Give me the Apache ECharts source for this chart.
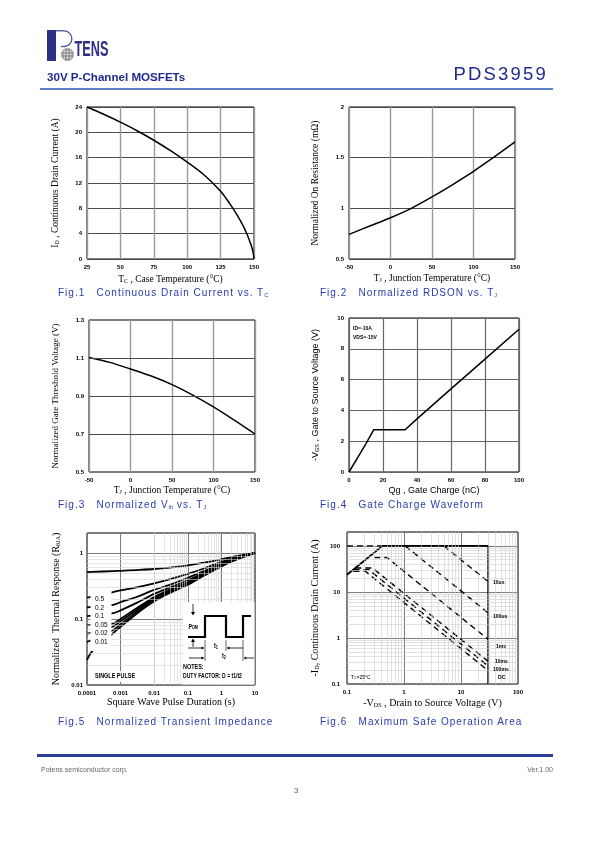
<!DOCTYPE html>
<html>
<head>
<meta charset="utf-8">
<title>PDS3959</title>
<script src="https://cdn.jsdelivr.net/npm/echarts@6.0.0/dist/echarts.min.js"></script>
<style>
html,body{margin:0;padding:0;background:#fff;}
#page{position:relative;width:595px;height:842px;overflow:hidden;background:#fff;}
#chart{position:absolute;left:0;top:0;width:595px;height:842px;}
.tx{position:absolute;white-space:nowrap;line-height:1;font-family:'Liberation Sans',Arial,sans-serif;}
.cap{font-size:10px;color:#2a3bb0;letter-spacing:1px;}
.cap sub{font-size:5.5px;vertical-align:-1px;letter-spacing:0;}
</style>
</head>
<body>
<div id="page">
<div id="chart"></div>
<div class="tx" style="left:47px;top:70.5px;font-size:11.6px;font-weight:bold;color:#1e2a8e;">30V P-Channel MOSFETs</div>
<div class="tx" style="right:47px;top:65px;font-size:18.5px;color:#1e2a8e;letter-spacing:2.2px;">PDS3959</div>
<div style="position:absolute;left:40px;top:88px;width:513px;height:2px;background:#5f7fc8;"></div>
<div class="tx cap" style="left:58px;top:288px;">Fig.1&nbsp;&nbsp;&nbsp;Continuous Drain Current vs. T<sub>C</sub></div>
<div class="tx cap" style="left:320px;top:288px;">Fig.2&nbsp;&nbsp;&nbsp;Normalized RDSON vs. T<sub>J</sub></div>
<div class="tx cap" style="left:58px;top:500px;">Fig.3&nbsp;&nbsp;&nbsp;Normalized V<sub>th</sub> vs. T<sub>J</sub></div>
<div class="tx cap" style="left:320px;top:500px;">Fig.4&nbsp;&nbsp;&nbsp;Gate Charge Waveform</div>
<div class="tx cap" style="left:58px;top:717px;">Fig.5&nbsp;&nbsp;&nbsp;Normalized Transient Impedance</div>
<div class="tx cap" style="left:320px;top:717px;">Fig.6&nbsp;&nbsp;&nbsp;Maximum Safe Operation Area</div>
<div style="position:absolute;left:37px;top:754px;width:516px;height:3px;background:#2b3c9c;"></div>
<div class="tx" style="left:41px;top:765.5px;font-size:7px;color:#666;">Potens semiconductor corp.</div>
<div class="tx" style="right:42px;top:765.5px;font-size:7px;color:#666;">Ver.1.00</div>
<div class="tx" style="left:294px;top:787px;font-size:8px;color:#666;">3</div>
</div>
<script>
// ---------------- DATA ----------------
// Fig.1 Continuous drain current vs case temperature
const fig1Temp = [25, 37.5, 50, 62.5, 75, 87.5, 100, 112.5, 125, 132, 137.5, 142, 145, 147.5, 149.2, 150];
const fig1Current = [24, 22.85, 21.6, 20.25, 18.75, 17.1, 15.3, 13.3, 10.7, 8.7, 6.9, 5.2, 3.8, 2.4, 1.2, 0];
const fig1XTicks = [25, 50, 75, 100, 125, 150];
const fig1YTicks = [0, 4, 8, 12, 16, 20, 24];

// Fig.2 Normalized RDSON vs junction temperature
const fig2Temp = [-50, -25, 0, 25, 50, 75, 100, 125, 150];
const fig2Rds = [0.743, 0.825, 0.907, 1.0, 1.113, 1.235, 1.365, 1.507, 1.655];
const fig2XTicks = [-50, 0, 50, 100, 150];
const fig2YTicks = [0.5, 1, 1.5, 2];

// Fig.3 Normalized Vth vs junction temperature
const fig3Temp = [-50, -25, 0, 25, 50, 75, 100, 125, 150];
const fig3Vth = [1.103, 1.077, 1.042, 1.005, 0.96, 0.905, 0.843, 0.773, 0.70];
const fig3XTicks = [-50, 0, 50, 100, 150];
const fig3YTicks = [0.5, 0.7, 0.9, 1.1, 1.3];

// Fig.4 Gate charge waveform
const fig4Qg = [0, 5, 10, 14.5, 33, 40, 60, 80, 100];
const fig4Vgs = [0, 0.92, 1.85, 2.74, 2.74, 3.45, 5.4, 7.33, 9.27];
const fig4XTicks = [0, 20, 40, 60, 80, 100];
const fig4YTicks = [0, 2, 4, 6, 8, 10];
const fig4Notes = ['ID=-10A', 'VDS=-15V'];

// Fig.5 Normalized transient impedance
const fig5Time = [0.0001, 0.00014, 0.0006, 0.001, 0.003, 0.01, 0.03, 0.1, 0.3, 1, 3, 10];
const fig5CurveA = [0.51, 0.515, 0.53, 0.535, 0.55, 0.57, 0.60, 0.645, 0.71, 0.80, 0.90, 1.0];
const fig5CurveB = [0.21, 0.215, 0.255, 0.27, 0.30, 0.345, 0.40, 0.48, 0.58, 0.73, 0.86, 1.0];
const fig5CurveC = [0.15, 0.152, 0.163, 0.18, 0.215, 0.275, 0.33, 0.42, 0.53, 0.69, 0.84, 1.0];
const fig5CurveD = [0.11, 0.112, 0.122, 0.135, 0.175, 0.24, 0.30, 0.385, 0.50, 0.67, 0.83, 1.0];
const fig5CurveE = [0.08, 0.081, 0.086, 0.10, 0.145, 0.215, 0.28, 0.36, 0.48, 0.655, 0.82, 1.0];
const fig5CurveF = [0.06, 0.062, 0.077, 0.092, 0.137, 0.205, 0.27, 0.35, 0.47, 0.645, 0.815, 1.0];
const fig5CurveG = [0.045, 0.048, 0.068, 0.083, 0.128, 0.195, 0.26, 0.34, 0.46, 0.635, 0.81, 1.0];
const fig5Single = [0.024, 0.032, 0.061, 0.076, 0.12, 0.185, 0.25, 0.33, 0.45, 0.625, 0.80, 1.0];
const fig5XTicks = [0.0001, 0.001, 0.01, 0.1, 1, 10];
const fig5YTicks = [0.01, 0.1, 1];
const fig5DutyLabels = ['0.5', '0.2', '0.1', '0.05', '0.02', '0.01'];

// Fig.6 Maximum safe operation area
const fig6BoundV = [0.1, 0.42, 30, 30];
const fig6BoundI = [23.5, 100, 100, 0.1];
const fig6TopV = [0.1, 0.42];
const fig6TopI = [100, 100];
const fig6Us10V = [5, 30];
const fig6Us10I = [100, 16.7];
const fig6Us100V = [1.05, 30];
const fig6Us100I = [100, 3.5];
const fig6Ms1V = [0.3, 0.5, 30];
const fig6Ms1I = [56, 56, 0.93];
const fig6Ms10V = [0.14, 0.28, 30];
const fig6Ms10I = [33, 33, 0.31];
const fig6Ms100V = [0.13, 0.24, 30];
const fig6Ms100I = [30.5, 30.5, 0.245];
const fig6DcV = [0.13, 0.21, 30];
const fig6DcI = [28, 28, 0.195];
const fig6XTicks = [0.1, 1, 10, 100];
const fig6YTicks = [0.1, 1, 10, 100];
const fig6Labels = ['10us', '100us', '1ms', '10ms', '100ms', 'DC'];

// ---------------- LAYOUT / STYLE ----------------
const SANS = "'Liberation Sans', Arial, sans-serif";
const SERIF = "'Liberation Serif', 'Times New Roman', serif";
const boxes = [
  {l: 87, t: 107, w: 167, h: 152},
  {l: 349, t: 107, w: 166, h: 152},
  {l: 89, t: 320, w: 166, h: 152},
  {l: 349, t: 318, w: 170, h: 154},
  {l: 87, t: 533, w: 168, h: 152},
  {l: 347, t: 532, w: 171, h: 152}
];
const zip = (a, b) => a.map((v, i) => [v, b[i]]);

function nameStyle(font, size) {
  return {
    color: '#000', fontFamily: font, fontSize: size,
    rich: {
      n: {fontFamily: font, fontSize: size, color: '#000'},
      s: {fontFamily: font, fontSize: size * 0.62, color: '#000', verticalAlign: 'bottom'}
    }
  };
}
const tickLabel = {fontSize: 6, fontWeight: 'bold', fontFamily: SANS, color: '#000'};

function linAxis(gi, ticks, extra) {
  return Object.assign({
    type: 'value', gridIndex: gi,
    min: ticks[0], max: ticks[ticks.length - 1],
    interval: +(ticks[1] - ticks[0]).toFixed(6),
    axisLine: {show: false}, axisTick: {show: false},
    axisLabel: Object.assign({margin: 5}, tickLabel),
    nameLocation: 'middle', nameMoveOverlap: false
  }, extra);
}
function logFormatter(ticks) {
  return function (v) {
    const t = ticks.find(x => Math.abs(Math.log10(x) - Math.log10(v)) < 1e-6);
    return t === undefined ? '' : String(t);
  };
}
function logAxis(gi, ticks, min, max, extra) {
  return Object.assign({
    type: 'log', logBase: 10, gridIndex: gi, min: min, max: max,
    axisLine: {show: false}, axisTick: {show: false},
    axisLabel: Object.assign({margin: 5, formatter: logFormatter(ticks)}, tickLabel),
    splitLine: {show: true, lineStyle: {color: '#7a7a7a', width: 1}},
    minorTick: {show: false}, minorSplitLine: {show: false},
    nameLocation: 'middle', nameMoveOverlap: false
  }, extra);
}
function minorValues(ticks) {
  const out = [];
  for (let i = 0; i < ticks.length - 1; i++) {
    for (let k = 2; k <= 9; k++) out.push(+(ticks[i] * k).toPrecision(3));
  }
  return out;
}
function gridLineSeries(gi, xs, ys, color, width) {
  return {
    type: 'line', xAxisIndex: gi, yAxisIndex: gi, data: [], z: 1, silent: true,
    markLine: {
      silent: true, symbol: ['none', 'none'], animation: false,
      label: {show: false},
      lineStyle: {color: color, width: width, type: 'solid'},
      emphasis: {disabled: true},
      data: xs.map(v => ({xAxis: v})).concat(ys.map(v => ({yAxis: v})))
    }
  };
}
function curve(gi, data, extra) {
  return Object.assign({
    type: 'line', xAxisIndex: gi, yAxisIndex: gi, data: data,
    showSymbol: false, symbol: 'none', z: 3, silent: true,
    lineStyle: {color: '#000', width: 1.5}
  }, extra);
}
function dashed(gi, data) {
  return curve(gi, data, {lineStyle: {color: '#000', width: 1.4, type: [6, 4]}});
}

const xSplit = {show: true, lineStyle: {color: '#9a9a9a', width: 1.4}};
const ySplit = {show: true, lineStyle: {color: '#4a4a4a', width: 1}};

const grids = boxes.map(b => ({
  left: b.l, top: b.t, width: b.w, height: b.h,
  show: true, borderColor: '#000', borderWidth: 1, backgroundColor: '#fff',
  containLabel: false, outerBoundsMode: 'none'
}));

const xAxes = [
  linAxis(0, fig1XTicks, {name: '{n|T}{s|C}{n| , Case Temperature (°C)}', nameGap: 15, nameTextStyle: nameStyle(SERIF, 9.5), splitLine: xSplit}),
  linAxis(1, fig2XTicks, {name: '{n|T}{s|J}{n| , Junction Temperature (°C)}', nameGap: 14, nameTextStyle: nameStyle(SERIF, 9.5), splitLine: xSplit}),
  linAxis(2, fig3XTicks, {name: '{n|T}{s|J}{n| , Junction Temperature (°C)}', nameGap: 13, nameTextStyle: nameStyle(SERIF, 9.5), splitLine: xSplit}),
  linAxis(3, fig4XTicks, {name: '{n|Qg , Gate Charge (nC)}', nameGap: 14, nameTextStyle: nameStyle(SANS, 9), splitLine: {show: true, lineStyle: {color: '#666', width: 1.2}}}),
  logAxis(4, fig5XTicks, 0.0001, 10, {name: '{n|Square Wave Pulse Duration (s)}', nameGap: 12, nameTextStyle: nameStyle(SERIF, 10)}),
  logAxis(5, fig6XTicks, 0.1, 100, {name: '{n|-V}{s|DS}{n| , Drain to Source Voltage (V)}', nameGap: 14, nameTextStyle: nameStyle(SERIF, 10)})
];
const yAxes = [
  linAxis(0, fig1YTicks, {name: '{n|I}{s|D}{n| , Continuous Drain Current (A)}', nameRotate: 90, nameGap: 27, nameTextStyle: nameStyle(SERIF, 9.5), splitLine: ySplit}),
  linAxis(1, fig2YTicks, {name: '{n|Normalized On Resistance (mΩ)}', nameRotate: 90, nameGap: 29, nameTextStyle: nameStyle(SERIF, 9.5), splitLine: ySplit}),
  linAxis(2, [0.5, 0.6, 0.7, 0.8, 0.9, 1.0, 1.1, 1.2, 1.3], {
    name: '{n|Normalized Gate Threshold Voltage (V)}', nameRotate: 90, nameGap: 29, nameTextStyle: nameStyle(SERIF, 9),
    splitLine: {show: false},
    axisLabel: Object.assign({margin: 5, formatter: v => fig3YTicks.some(t => Math.abs(t - v) < 1e-6) ? String(+v.toFixed(1)) : ''}, tickLabel)
  }),
  linAxis(3, fig4YTicks, {name: '{n|-V}{s|GS}{n| , Gate to Source Voltage (V)}', nameRotate: 90, nameGap: 29, nameTextStyle: nameStyle(SANS, 9), splitLine: {show: true, lineStyle: {color: '#666', width: 1.2}}}),
  logAxis(4, fig5YTicks, 0.01, 2, {name: '{n|Normalized  Thermal Response (R}{s|θJA}{n|)}', nameRotate: 90, nameGap: 26, nameTextStyle: nameStyle(SERIF, 10), axisLabel: Object.assign({margin: 4, formatter: logFormatter(fig5YTicks)}, tickLabel)}),
  logAxis(5, fig6YTicks, 0.1, 200, {name: '{n|-I}{s|D}{n|, Continuous Drain Current (A)}', nameRotate: 90, nameGap: 27, nameTextStyle: nameStyle(SERIF, 10), axisLabel: Object.assign({margin: 7, formatter: logFormatter(fig6YTicks)}, tickLabel)})
];

const series = [
  curve(0, zip(fig1Temp, fig1Current), {smooth: 0.3}),
  curve(1, zip(fig2Temp, fig2Rds), {smooth: 0.3}),
  gridLineSeries(2, [], fig3YTicks.slice(1, -1), '#4a4a4a', 1),
  curve(2, zip(fig3Temp, fig3Vth), {smooth: 0.3}),
  curve(3, zip(fig4Qg, fig4Vgs)),
  gridLineSeries(4, minorValues(fig5XTicks), minorValues(fig5YTicks), '#d4d4d4', 0.6),
  gridLineSeries(5, minorValues(fig6XTicks), minorValues(fig6YTicks), '#cccccc', 0.6)
];
[fig5CurveA, fig5CurveB, fig5CurveC, fig5CurveD, fig5CurveE, fig5CurveF, fig5CurveG, fig5Single].forEach(c => {
  series.push(curve(4, zip(fig5Time, c), {smooth: 0.3, lineStyle: {color: '#000', width: 1.8}}));
});
series.push(curve(5, zip(fig6BoundV, fig6BoundI), {lineStyle: {color: '#000', width: 1.8}}));
[[fig6TopV, fig6TopI], [fig6Us10V, fig6Us10I], [fig6Us100V, fig6Us100I], [fig6Ms1V, fig6Ms1I],
 [fig6Ms10V, fig6Ms10I], [fig6Ms100V, fig6Ms100I], [fig6DcV, fig6DcI]].forEach(p => {
  series.push(dashed(5, zip(p[0], p[1])));
});

// ---------------- GRAPHIC ANNOTATIONS ----------------
const blk = '#000';
function gline(x1, y1, x2, y2, w) { return {type: 'line', z: 101, shape: {x1, y1, x2, y2}, style: {stroke: blk, lineWidth: w || 0.8}}; }
function tri(pts) { return {type: 'polygon', z: 101, shape: {points: pts}, style: {fill: blk}}; }
// condensed bold label (narrow look emulated with scaleX)
function txt(x, y, text, size, extra, sx) {
  return {type: 'text', x: x, y: y, z: 102, scaleX: sx === undefined ? 0.84 : sx,
    style: Object.assign({text: text, fontSize: size, fontFamily: SANS, fontWeight: 'bold', fill: blk, align: 'left', verticalAlign: 'middle'}, extra || {})};
}
function wrect(x, y, w, h) { return {type: 'rect', z: 100, shape: {x, y, width: w, height: h}, style: {fill: '#fff'}}; }
const navy = '#2c2f84';
const subRich = {a: {fontSize: 6.5, fontFamily: SANS, fontWeight: 'bold'}, b: {fontSize: 4.5, fontFamily: SANS, fontWeight: 'bold', verticalAlign: 'bottom'}};
const graphics = [
  // logo
  {type: 'rect', shape: {x: 47, y: 30, width: 9, height: 31}, style: {fill: navy}},
  {type: 'line', shape: {x1: 56, y1: 30.8, x2: 64, y2: 30.8}, style: {stroke: '#4a4f96', lineWidth: 1.3}},
  {type: 'arc', shape: {cx: 64, cy: 38.65, r: 7.85, startAngle: -Math.PI / 2, endAngle: Math.PI / 2, clockwise: true}, style: {stroke: '#4a4f96', lineWidth: 1.3, fill: 'none'}},
  {type: 'line', shape: {x1: 64, y1: 46.5, x2: 61, y2: 46.5}, style: {stroke: '#4a4f96', lineWidth: 1.3}},
  {type: 'circle', shape: {cx: 67.5, cy: 54.5, r: 6.5}, style: {fill: '#8d8d8d'}},
  {type: 'line', shape: {x1: 61.8, y1: 51.3, x2: 73.2, y2: 51.3}, style: {stroke: '#e0e0e0', lineWidth: 0.6}},
  {type: 'line', shape: {x1: 61, y1: 54.5, x2: 74, y2: 54.5}, style: {stroke: '#e0e0e0', lineWidth: 0.6}},
  {type: 'line', shape: {x1: 61.8, y1: 57.7, x2: 73.2, y2: 57.7}, style: {stroke: '#e0e0e0', lineWidth: 0.6}},
  {type: 'line', shape: {x1: 64.3, y1: 48.8, x2: 64.3, y2: 60.2}, style: {stroke: '#e0e0e0', lineWidth: 0.6}},
  {type: 'line', shape: {x1: 67.5, y1: 48, x2: 67.5, y2: 61}, style: {stroke: '#e0e0e0', lineWidth: 0.6}},
  {type: 'line', shape: {x1: 70.7, y1: 48.8, x2: 70.7, y2: 60.2}, style: {stroke: '#e0e0e0', lineWidth: 0.6}},
  {type: 'text', x: 74.5, y: 61, scaleY: 1.4, scaleX: 0.82, style: {text: 'TENS', fontFamily: SANS, fontWeight: 'bold', fontSize: 15.5, fill: navy, align: 'left', verticalAlign: 'bottom'}},

  // Fig.4 notes
  txt(353, 328.5, fig4Notes[0], 6),
  txt(353, 337.5, fig4Notes[1], 6),

  // Fig.5 duty labels box
  wrect(90.5, 589, 21, 62),
  ...fig5DutyLabels.map((s, i) => txt(95, 599.3 + i * 8.5, s, 6.5, {fontFamily: SANS, fontWeight: 'normal'}, 1)),
  wrect(91, 671, 44, 11),
  txt(95, 676.5, 'SINGLE PULSE', 6.5),

  // Fig.5 inset
  wrect(182.5, 602, 72, 82.5),
  {type: 'polyline', z: 101, shape: {points: [[188, 637], [205, 637], [205, 616], [226, 616], [226, 637], [243, 637], [243, 616], [251, 616]]}, style: {stroke: blk, lineWidth: 2.2, fill: 'none'}},
  txt(188.5, 627, '{a|P}{b|DM}', 6.5, {rich: subRich}),
  gline(193, 604, 193, 613),
  tri([[191, 612], [195, 612], [193, 615.5]]),
  gline(193, 647, 193, 641),
  tri([[191, 642], [195, 642], [193, 638.5]]),
  gline(188, 648, 202, 648),
  tri([[201.5, 646.5], [201.5, 649.5], [204.5, 648]]),
  txt(214, 646.5, '{a|t}{b|1}', 6.5, {rich: subRich}),
  gline(243, 648, 229, 648),
  tri([[229.5, 646.5], [229.5, 649.5], [226.5, 648]]),
  gline(189, 658, 202, 658),
  tri([[201.5, 656.5], [201.5, 659.5], [204.5, 658]]),
  txt(222, 656.5, '{a|t}{b|2}', 6.5, {rich: subRich}),
  gline(254, 658, 247, 658),
  tri([[246.5, 656.5], [246.5, 659.5], [243.5, 658]]),
  gline(205, 640, 205, 661, 0.6),
  gline(226, 640, 226, 651, 0.6),
  gline(243, 640, 243, 661, 0.6),
  txt(183, 667.5, 'NOTES:', 6.5),
  txt(183, 676, 'DUTY FACTOR: D = t1/t2', 6.5, null, 0.78),

  // Fig.6 labels
  txt(493, 582, fig6Labels[0], 6),
  txt(493, 616.5, fig6Labels[1], 6),
  txt(496, 646, fig6Labels[2], 6),
  txt(495, 661.5, fig6Labels[3], 6),
  txt(493, 669.5, fig6Labels[4], 6),
  txt(498, 677, fig6Labels[5], 6),
  txt(351, 677, '{a|T}{b|C}{a|=25°C}', 6, {rich: {a: {fontSize: 6, fontFamily: SANS, fontWeight: 'normal'}, b: {fontSize: 4, fontFamily: SANS, verticalAlign: 'bottom'}}})
];

const chart = echarts.init(document.getElementById('chart'), null, {renderer: 'canvas', width: 595, height: 842});
chart.setOption({
  animation: false,
  backgroundColor: '#fff',
  grid: grids,
  xAxis: xAxes,
  yAxis: yAxes,
  series: series,
  graphic: {elements: graphics}
});
</script>
</body>
</html>
